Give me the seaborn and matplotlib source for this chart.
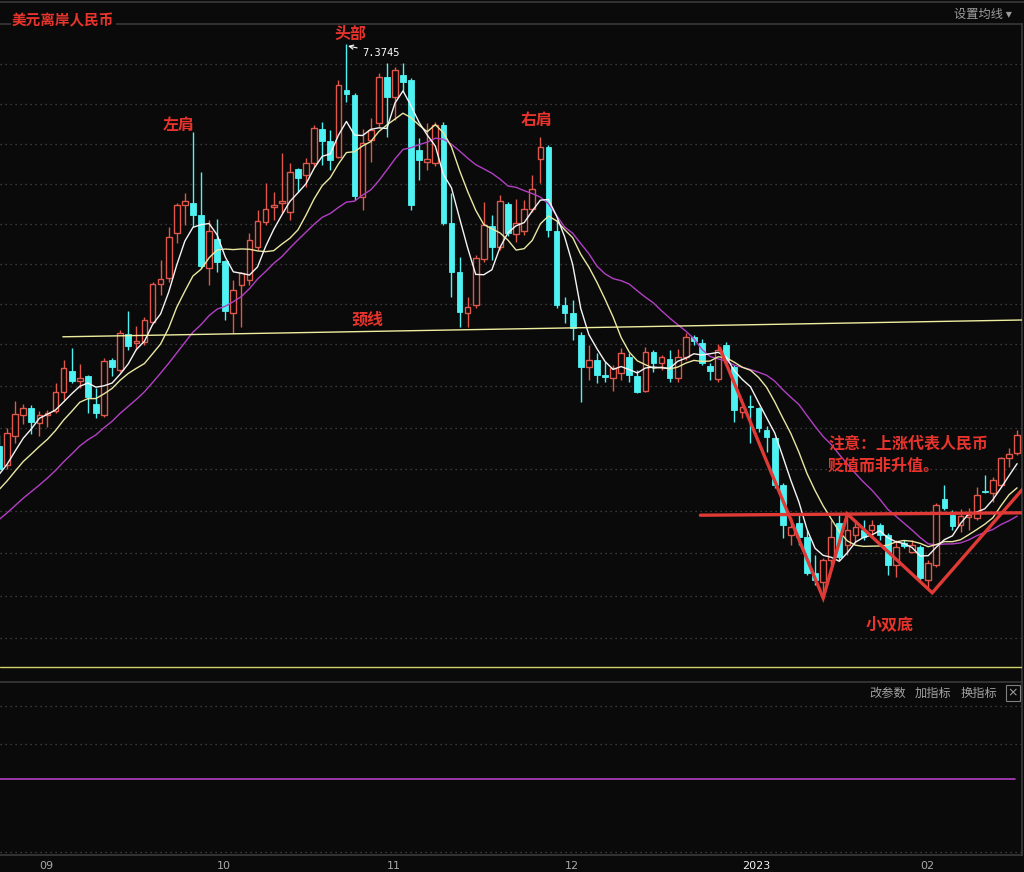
import matplotlib
matplotlib.use("Agg")
import matplotlib.pyplot as plt
import seaborn as sns
import numpy as np
import pandas as pd

W, H = 1024, 872

# USD/CNH daily candles, late Aug 2022 -> mid Feb 2023
opens = [6.873, 6.849, 6.885, 6.911, 6.920, 6.901, 6.911, 6.916, 6.940, 6.966,
         6.954, 6.960, 6.925, 6.911, 6.980, 6.968, 7.013, 7.001, 7.003, 7.028,
         7.075, 7.083, 7.139, 7.174, 7.176, 7.161, 7.095, 7.131, 7.104, 7.039,
         7.074, 7.080, 7.121, 7.153, 7.171, 7.176, 7.165, 7.219, 7.211, 7.226,
         7.269, 7.254, 7.234, 7.318, 7.311, 7.184, 7.255, 7.276, 7.334, 7.309,
         7.336, 7.330, 7.243, 7.228, 7.226, 7.274, 7.151, 7.090, 7.039, 7.049,
         7.106, 7.148, 7.121, 7.175, 7.138, 7.141, 7.169, 7.231, 7.246, 7.141,
         7.049, 7.039, 7.011, 6.971, 6.980, 6.961, 6.958, 6.964, 6.984, 6.960,
         6.941, 6.990, 6.976, 6.981, 6.958, 6.984, 7.009, 7.001, 6.973, 6.956,
         6.999, 6.971, 6.915, 6.923, 6.920, 6.893, 6.883, 6.824, 6.761, 6.776,
         6.759, 6.714, 6.703, 6.730, 6.776, 6.749, 6.761, 6.768, 6.768, 6.774,
         6.761, 6.724, 6.751, 6.740, 6.746, 6.705, 6.724, 6.806, 6.786, 6.774,
         6.784, 6.783, 6.816, 6.814, 6.824, 6.858, 6.864]
highs = [6.886, 6.895, 6.929, 6.925, 6.924, 6.916, 6.918, 6.951, 6.980, 6.995,
         6.975, 6.961, 6.945, 6.983, 6.983, 7.018, 7.041, 7.023, 7.034, 7.078,
         7.105, 7.146, 7.176, 7.189, 7.265, 7.215, 7.155, 7.156, 7.105, 7.080,
         7.090, 7.139, 7.168, 7.201, 7.190, 7.239, 7.226, 7.220, 7.233, 7.274,
         7.278, 7.268, 7.330, 7.3745, 7.314, 7.269, 7.283, 7.339, 7.351, 7.346,
         7.351, 7.333, 7.258, 7.276, 7.278, 7.278, 7.189, 7.109, 7.059, 7.111,
         7.178, 7.161, 7.186, 7.178, 7.181, 7.180, 7.211, 7.259, 7.249, 7.155,
         7.059, 7.055, 7.015, 6.999, 6.989, 6.978, 6.974, 6.995, 6.989, 6.968,
         6.996, 6.993, 6.986, 6.993, 6.994, 7.014, 7.011, 7.006, 6.976, 7.000,
         7.003, 6.974, 6.924, 6.936, 6.921, 6.898, 6.884, 6.826, 6.784, 6.786,
         6.768, 6.736, 6.733, 6.780, 6.786, 6.786, 6.780, 6.780, 6.780, 6.776,
         6.764, 6.755, 6.755, 6.755, 6.749, 6.730, 6.801, 6.824, 6.793, 6.794,
         6.795, 6.821, 6.836, 6.834, 6.859, 6.870, 6.893]
lows = [6.840, 6.844, 6.876, 6.900, 6.888, 6.885, 6.896, 6.914, 6.930, 6.951,
        6.945, 6.914, 6.908, 6.909, 6.960, 6.965, 6.993, 6.993, 6.999, 7.026,
        7.061, 7.078, 7.126, 7.149, 7.146, 7.095, 7.074, 7.090, 7.030, 7.014,
        7.021, 7.074, 7.118, 7.149, 7.155, 7.164, 7.155, 7.190, 7.196, 7.221,
        7.224, 7.218, 7.233, 7.303, 7.180, 7.168, 7.228, 7.271, 7.259, 7.280,
        7.315, 7.168, 7.205, 7.218, 7.223, 7.149, 7.059, 7.021, 7.021, 7.045,
        7.103, 7.105, 7.118, 7.135, 7.128, 7.136, 7.165, 7.201, 7.134, 7.045,
        7.026, 7.005, 6.928, 6.955, 6.951, 6.953, 6.941, 6.955, 6.953, 6.939,
        6.940, 6.965, 6.968, 6.953, 6.953, 6.980, 6.999, 6.974, 6.955, 6.953,
        6.978, 6.903, 6.908, 6.876, 6.890, 6.865, 6.820, 6.758, 6.749, 6.749,
        6.711, 6.699, 6.684, 6.724, 6.730, 6.736, 6.751, 6.755, 6.759, 6.755,
        6.711, 6.709, 6.745, 6.739, 6.705, 6.695, 6.721, 6.793, 6.768, 6.765,
        6.768, 6.780, 6.814, 6.803, 6.821, 6.846, 6.861]
closes = [6.844, 6.889, 6.913, 6.920, 6.903, 6.911, 6.914, 6.940, 6.970, 6.954,
          6.958, 6.934, 6.914, 6.979, 6.971, 7.014, 6.998, 7.004, 7.030, 7.075,
          7.081, 7.134, 7.174, 7.179, 7.161, 7.098, 7.141, 7.103, 7.041, 7.068,
          7.089, 7.130, 7.154, 7.169, 7.174, 7.179, 7.215, 7.208, 7.226, 7.270,
          7.254, 7.230, 7.324, 7.313, 7.185, 7.251, 7.268, 7.334, 7.309, 7.343,
          7.328, 7.174, 7.230, 7.231, 7.274, 7.151, 7.090, 7.040, 7.046, 7.108,
          7.149, 7.121, 7.179, 7.139, 7.151, 7.169, 7.194, 7.246, 7.143, 7.049,
          7.039, 7.020, 6.971, 6.980, 6.961, 6.959, 6.970, 6.989, 6.961, 6.940,
          6.990, 6.976, 6.984, 6.958, 6.984, 7.009, 7.004, 6.976, 6.966, 6.993,
          6.980, 6.918, 6.921, 6.921, 6.895, 6.884, 6.824, 6.774, 6.771, 6.759,
          6.714, 6.705, 6.730, 6.759, 6.734, 6.768, 6.771, 6.759, 6.774, 6.761,
          6.724, 6.746, 6.748, 6.749, 6.708, 6.726, 6.799, 6.795, 6.773, 6.785,
          6.786, 6.811, 6.815, 6.830, 6.858, 6.863, 6.886]
# closes before the first visible candle, only used to seed the moving averages
prior_closes = [6.720, 6.730, 6.735, 6.740, 6.745, 6.740, 6.750, 6.755, 6.760, 6.755,
                6.780, 6.790, 6.800, 6.810, 6.815, 6.825, 6.830, 6.840, 6.845]

month_pos = [5, 27, 48, 70, 92, 114]
month_labels = ["09", "10", "11", "12", "2023", "02"]

head_idx = 43
head_high = 7.3745

# hand-drawn annotations on the original chart
neck_x = [7.9, 126.6]
neck_y = [7.009, 7.030]
support_x = [86.8, 126.6]
support_y = [6.786, 6.789]
pattern_x = [89.2, 102.0, 105.0, 115.5, 126.9]
pattern_y = [6.995, 6.6825, 6.7875, 6.689, 6.821]
base_level = 6.596
sub_level = 0.44

BG = "#0a0a0a"
RED = "#e0574c"
CYAN = "#4ff2f2"
TXT_RED = "#e8342c"
GRID = "#4a4a4a"
FRAME = "#3a3a3a"

sns.set_theme(style="dark", rc={"axes.facecolor": BG, "figure.facecolor": BG,
                                "axes.grid": False})
plt.rcParams["font.family"] = ["Noto Sans CJK SC", "DejaVu Sans"]

fig = plt.figure(figsize=(W / 100, H / 100), dpi=100)


def fxy(x, y):
    return x / W, 1 - y / H


x_lo, x_hi = 1 / 8.08, 1023 / 8.08

# ---- main price panel ----
ax = fig.add_axes([0, 1 - 681 / H, 1022 / W, (681 - 24) / H])
ax.set_facecolor(BG)
ax.set_xlim(x_lo, x_hi)
ax.set_ylim(6.57875, 7.40)

for g in [7.35, 7.30, 7.25, 7.20, 7.15, 7.10, 7.05, 7.00, 6.948, 6.895,
          6.844, 6.791, 6.739, 6.685, 6.633]:
    ax.axhline(g, color=GRID, lw=0.9, ls=(0, (1, 3)), zorder=0)

df = pd.DataFrame({"open": opens, "high": highs, "low": lows, "close": closes})
df["idx"] = np.arange(len(df))
up = df["close"] >= df["open"]
full = pd.Series(prior_closes + closes)
n0 = len(prior_closes)
df["ma5"] = full.rolling(5).mean().iloc[n0:].values
df["ma10"] = full.rolling(10).mean().iloc[n0:].values
df["ma20"] = full.rolling(20).mean().iloc[n0:].values

wick_colors = np.where(up, RED, CYAN)
ax.vlines(df["idx"], df["low"], df["high"], colors=wick_colors, lw=1, zorder=2)
body = (df["close"] - df["open"]).abs().clip(lower=0.0012)
bottom = df[["open", "close"]].min(axis=1)
ax.bar(df["idx"][up], body[up], bottom=bottom[up], width=0.7,
       facecolor=BG, edgecolor=RED, lw=1, zorder=3)
ax.bar(df["idx"][~up], body[~up], bottom=bottom[~up], width=0.7,
       facecolor=CYAN, edgecolor=CYAN, lw=0.6, zorder=3)

sns.lineplot(data=df, x="idx", y="ma20", color="#b23fc4", lw=1, ax=ax, zorder=4)
sns.lineplot(data=df, x="idx", y="ma10", color="#e9e7a2", lw=1, ax=ax, zorder=4)
sns.lineplot(data=df, x="idx", y="ma5", color="#f4f4f4", lw=1, ax=ax, zorder=4)

ax.plot(neck_x, neck_y, color="#efeea0", lw=1, zorder=4)
ax.axhline(base_level, color="#d2d26a", lw=1, zorder=4)
ax.plot(support_x, support_y, color="#e03a36", lw=2.4, zorder=5)
ax.plot(pattern_x, pattern_y, color="#e03a36", lw=2.4, zorder=5,
        solid_joinstyle="miter")

ax.annotate(f"{head_high}", xy=(head_idx + 0.2, head_high - 0.002),
            xytext=(44.9, 7.364), color="white", fontsize=7.5,
            family="DejaVu Sans Mono", va="center", ha="left",
            arrowprops=dict(arrowstyle="->", color="white", lw=0.8,
                            shrinkA=1, shrinkB=0))

ax.set_xticks([])
ax.set_yticks([])
ax.set_xlabel("")
ax.set_ylabel("")
for s in ["left", "bottom"]:
    ax.spines[s].set_visible(False)
for s in ["top", "right"]:
    ax.spines[s].set_color(FRAME)
    ax.spines[s].set_linewidth(1.2)

# ---- lower indicator panel ----
ax2 = fig.add_axes([0, 17 / H, 1022 / W, (855 - 682) / H])
ax2.set_facecolor(BG)
ax2.set_xlim(x_lo, x_hi)
ax2.set_ylim(0, 1)
for g in [0.861, 0.642, 0.017]:
    ax2.axhline(g, color=GRID, lw=0.9, ls=(0, (1, 3)), zorder=0)
ax2.axhline(sub_level, color="#b23fc4", lw=1.2, xmax=0.993, zorder=2)
ax2.set_yticks([])
ax2.set_xticks(month_pos)
ax2.set_xticklabels(month_labels)
ax2.tick_params(axis="x", direction="in", length=3, color="#707070",
                labelsize=8, labelcolor="#a8a8a8", pad=4)
for lab in ax2.get_xticklabels():
    lab.set_ha("left")
    lab.set_family("DejaVu Sans")
    if lab.get_text() == "2023":
        lab.set_color("#f0f0f0")
ax2.spines["left"].set_visible(False)
for s in ["top", "right", "bottom"]:
    ax2.spines[s].set_color(FRAME)
    ax2.spines[s].set_linewidth(1.2)

# ---- texts ----
lab_kw = dict(color=TXT_RED, fontsize=11.5, fontweight="bold", ha="center", va="center")
fig.text(*fxy(179, 125), "左肩", **lab_kw)
fig.text(*fxy(350, 34), "头部", **lab_kw)
fig.text(*fxy(537, 120), "右肩", **lab_kw)
fig.text(*fxy(368, 319), "颈线", **lab_kw)
fig.text(*fxy(890, 624), "小双底", **lab_kw)
fig.text(*fxy(828, 444), "注意：上涨代表人民币", color=TXT_RED, fontsize=11.5,
         fontweight="bold", ha="left", va="center")
fig.text(*fxy(828, 466), "贬值而非升值。", color=TXT_RED, fontsize=11.5,
         fontweight="bold", ha="left", va="center")
fig.text(*fxy(12, 20), "美元离岸人民币", color=TXT_RED, fontsize=10.5,
         fontweight="bold", ha="left", va="center",
         bbox=dict(facecolor=BG, edgecolor="none", pad=1))
fig.text(*fxy(954, 14), "设置均线 ▾", color="#9c9c9c", fontsize=8.8,
         ha="left", va="center")
for x, t in [(888, "改参数"), (933, "加指标"), (979, "换指标")]:
    fig.text(*fxy(x, 693), t, color="#a0a0a0", fontsize=8.8, ha="center", va="center")
fig.text(*fxy(1013, 693), "×", color="#a0a0a0", fontsize=9, ha="center", va="center",
         family="DejaVu Sans",
         bbox=dict(facecolor="none", edgecolor="#808080", boxstyle="square,pad=0.15", lw=0.8))

# top frame line
fig.add_artist(plt.Line2D([0, 1], [1 - 2 / H, 1 - 2 / H], color=FRAME, lw=1.2))

fig.savefig("out.png", dpi=100, facecolor=BG)
